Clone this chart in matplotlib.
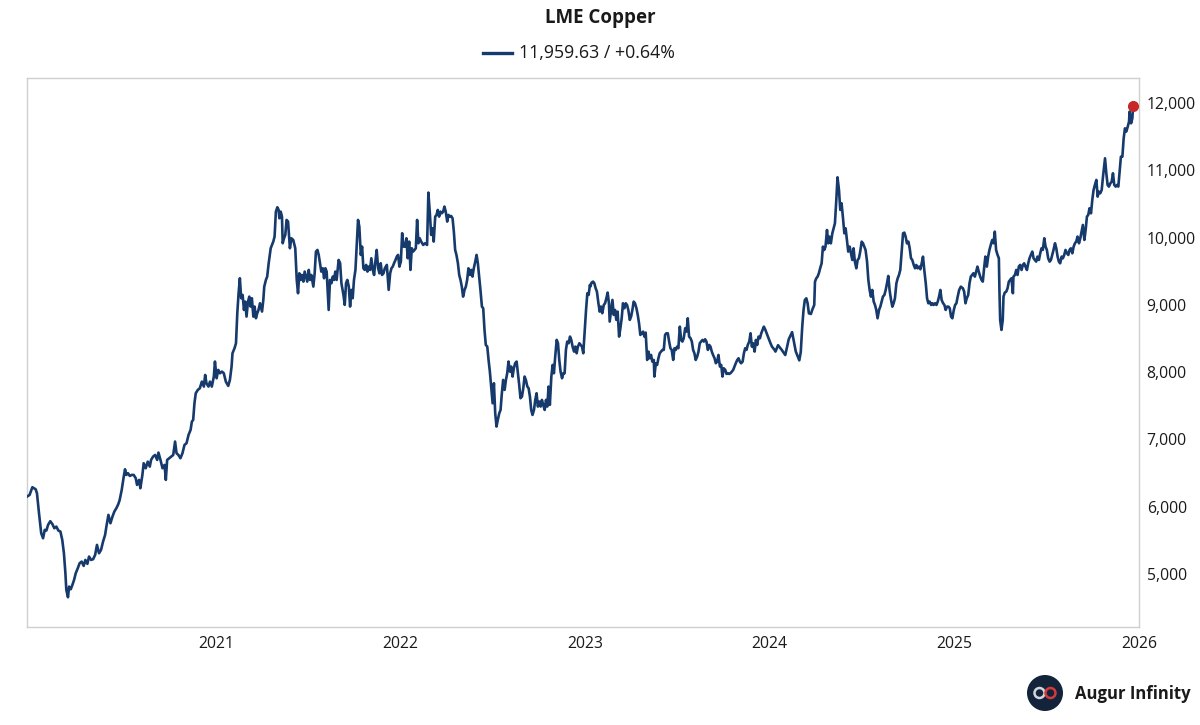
import matplotlib
matplotlib.use("Agg")
import matplotlib.pyplot as plt
from matplotlib.patches import Circle
from matplotlib.lines import Line2D
from matplotlib.ticker import FuncFormatter, FixedLocator
import numpy as np

plt.rcParams['font.family'] = ['Open Sans', 'DejaVu Sans']

# ---------------- data ----------------
title = "LME Copper"
legend_label = "11,959.63 / +0.64%"
year_ticks = [2021, 2022, 2023, 2024, 2025, 2026]
y_ticks = [5000, 6000, 7000, 8000, 9000, 10000, 11000, 12000]

t_2020 = [2019.977, 2019.991, 2020.006, 2020.024, 2020.031, 2020.042, 2020.054, 2020.064, 2020.073, 2020.082,
          2020.091, 2020.103, 2020.114, 2020.125, 2020.136, 2020.147, 2020.158, 2020.168, 2020.177, 2020.185,
          2020.190, 2020.199, 2020.205, 2020.214, 2020.223, 2020.232, 2020.241, 2020.252, 2020.262, 2020.273,
          2020.284, 2020.293, 2020.304, 2020.313, 2020.324, 2020.335, 2020.346, 2020.356, 2020.367, 2020.378,
          2020.389, 2020.400, 2020.407, 2020.418, 2020.429, 2020.440, 2020.450, 2020.461, 2020.472, 2020.479,
          2020.490, 2020.501, 2020.508, 2020.515, 2020.524, 2020.534, 2020.544, 2020.555, 2020.566, 2020.573,
          2020.584, 2020.591, 2020.602, 2020.609, 2020.620, 2020.631, 2020.642, 2020.649, 2020.660, 2020.671,
          2020.682, 2020.689, 2020.700, 2020.711, 2020.722, 2020.729, 2020.736, 2020.747, 2020.758, 2020.769,
          2020.779, 2020.787, 2020.797, 2020.808, 2020.819, 2020.830, 2020.841, 2020.852, 2020.863, 2020.870,
          2020.877, 2020.884, 2020.891, 2020.902, 2020.913, 2020.924, 2020.935, 2020.942, 2020.949, 2020.960,
          2020.968, 2020.978, 2020.989, 2020.995]
p_2020 = [6150, 6175, 6289, 6259, 6200, 5903, 5605, 5531, 5655, 5645,
          5729, 5784, 5744, 5680, 5704, 5645, 5630, 5506, 5308, 5011,
          4763, 4654, 4813, 4773, 4838, 4912, 5011, 5085, 5160, 5184,
          5120, 5209, 5150, 5259, 5209, 5219, 5283, 5432, 5308, 5358,
          5482, 5581, 5704, 5878, 5754, 5853, 5927, 5977, 6041, 6101,
          6249, 6447, 6556, 6472, 6497, 6457, 6472, 6472, 6423, 6324,
          6398, 6274, 6472, 6646, 6571, 6670, 6596, 6695, 6745, 6769,
          6695, 6804, 6695, 6571, 6621, 6398, 6695, 6720, 6745, 6769,
          6968, 6794, 6769, 6720, 6794, 6918, 6943, 7067, 7141, 7265,
          7289, 7537, 7686, 7735, 7760, 7859, 7785, 7958, 7834, 7785,
          7859, 7785, 7934, 8157]

t_2021 = [2021.004, 2021.013, 2021.022, 2021.033, 2021.043, 2021.054, 2021.067, 2021.076, 2021.085, 2021.090,
          2021.101, 2021.109, 2021.116, 2021.123, 2021.130, 2021.137, 2021.145, 2021.152, 2021.159, 2021.166,
          2021.174, 2021.181, 2021.188, 2021.195, 2021.203, 2021.210, 2021.217, 2021.224, 2021.231, 2021.239,
          2021.250, 2021.257, 2021.262, 2021.271, 2021.278, 2021.286, 2021.297, 2021.304, 2021.311, 2021.318,
          2021.325, 2021.333, 2021.340, 2021.344, 2021.351, 2021.358, 2021.362, 2021.369, 2021.376, 2021.383,
          2021.391, 2021.398, 2021.401, 2021.409, 2021.419, 2021.430, 2021.438, 2021.445, 2021.452, 2021.459,
          2021.466, 2021.474, 2021.481, 2021.488, 2021.495, 2021.503, 2021.510, 2021.517, 2021.528, 2021.535,
          2021.542, 2021.550, 2021.557, 2021.564, 2021.571, 2021.579, 2021.586, 2021.593, 2021.600, 2021.611,
          2021.618, 2021.626, 2021.633, 2021.640, 2021.647, 2021.654, 2021.665, 2021.673, 2021.680, 2021.691,
          2021.698, 2021.705, 2021.712, 2021.720, 2021.727, 2021.734, 2021.741, 2021.748, 2021.756, 2021.763,
          2021.770, 2021.777, 2021.785, 2021.792, 2021.799, 2021.806, 2021.814, 2021.821, 2021.828, 2021.835,
          2021.842, 2021.850, 2021.857, 2021.864, 2021.871, 2021.879, 2021.886, 2021.893, 2021.900, 2021.908,
          2021.915, 2021.926, 2021.936, 2021.944, 2021.951, 2021.958, 2021.965, 2021.973, 2021.980, 2021.987,
          2021.994, 2022.002, 2022.009, 2022.016, 2022.025]
p_2021 = [7909, 8033, 7983, 8008, 7983, 7859, 7795, 7884, 8082, 8280,
          8355, 8429, 8875, 9172, 9395, 9098, 9147, 8924, 9048, 8825,
          9048, 9122, 8974, 9098, 8825, 8974, 8801, 8875, 8924, 9023,
          8900, 9073, 9271, 9370, 9420, 9618, 9841, 9890, 9940, 10014,
          10385, 10450, 10410, 10286, 10385, 10311, 9915, 9989, 10039, 10262,
          10237, 9964, 9841, 9989, 9964, 9841, 9370, 9172, 9469, 9370,
          9444, 9345, 9494, 9420, 9345, 9519, 9370, 9444, 9271, 9469,
          9791, 9816, 9742, 9618, 9494, 9543, 9395, 9543, 9494, 8924,
          9370, 9321, 9420, 9370, 9494, 9370, 9667, 9618, 9321, 9147,
          8999, 9321, 9370, 9271, 8974, 9222, 9098, 9370, 9519, 9890,
          10262, 10163, 9742, 9865, 9543, 9519, 9593, 9494, 9568, 9519,
          9692, 9519, 9444, 9643, 9816, 9543, 9469, 9618, 9444, 9469,
          9543, 9593, 9222, 9469, 9543, 9568, 9618, 9667, 9717, 9742,
          9568, 9643, 10064, 9865, 9865]

t_2022 = [2022.032, 2022.039, 2022.047, 2022.054, 2022.061, 2022.068, 2022.076, 2022.083, 2022.090, 2022.097,
          2022.104, 2022.112, 2022.123, 2022.133, 2022.144, 2022.151, 2022.159, 2022.166, 2022.173, 2022.180,
          2022.188, 2022.195, 2022.202, 2022.209, 2022.217, 2022.224, 2022.231, 2022.238, 2022.245, 2022.253,
          2022.260, 2022.267, 2022.274, 2022.282, 2022.289, 2022.296, 2022.303, 2022.311, 2022.318, 2022.325,
          2022.332, 2022.339, 2022.347, 2022.354, 2022.361, 2022.368, 2022.376, 2022.383, 2022.390, 2022.397,
          2022.405, 2022.412, 2022.419, 2022.426, 2022.433, 2022.441, 2022.448, 2022.455, 2022.462, 2022.470,
          2022.477, 2022.484, 2022.491, 2022.499, 2022.506, 2022.513, 2022.520, 2022.527, 2022.535, 2022.542,
          2022.549, 2022.556, 2022.564, 2022.571, 2022.578, 2022.585, 2022.593, 2022.600, 2022.607, 2022.614,
          2022.621, 2022.629, 2022.636, 2022.643, 2022.650, 2022.658, 2022.665, 2022.672, 2022.679, 2022.687,
          2022.694, 2022.701, 2022.708, 2022.715, 2022.723, 2022.730, 2022.737, 2022.744, 2022.752, 2022.759,
          2022.766, 2022.773, 2022.781, 2022.788, 2022.795, 2022.802, 2022.809, 2022.817, 2022.824, 2022.831,
          2022.838, 2022.846, 2022.853, 2022.860, 2022.867, 2022.875, 2022.882, 2022.889, 2022.896, 2022.903,
          2022.911, 2022.918, 2022.925, 2022.932, 2022.940, 2022.947, 2022.954, 2022.961, 2022.969, 2022.976,
          2022.983, 2022.990, 2022.997, 2023.005, 2023.012, 2023.019, 2023.026]
p_2022 = [9989, 9692, 9940, 9519, 9841, 9791, 9816, 9841, 10262, 9915,
          9989, 9940, 9890, 9915, 9890, 10668, 10361, 10039, 10138, 9940,
          10311, 10336, 10410, 10311, 10385, 10361, 10385, 10460, 10385, 10237,
          10336, 10311, 10321, 10286, 10088, 9816, 9742, 9618, 9444, 9370,
          9271, 9122, 9222, 9271, 9370, 9543, 9444, 9519, 9420, 9543,
          9643, 9742, 9618, 9420, 9222, 8974, 8949, 8627, 8404, 8379,
          8181, 8008, 7785, 7537, 7835, 7389, 7191, 7290, 7389, 7438,
          7686, 7884, 7736, 7884, 7983, 8157, 8008, 8082, 7934, 8058,
          8132, 8157, 7983, 7810, 7612, 7637, 7760, 7934, 7884, 7785,
          7760, 7637, 7438, 7364, 7438, 7587, 7686, 7488, 7562, 7488,
          7587, 7513, 7438, 7587, 7488, 7785, 7513, 7934, 8107, 7983,
          8231, 8479, 8429, 8181, 8008, 7909, 7983, 7983, 8330, 8454,
          8429, 8528, 8479, 8379, 8305, 8379, 8280, 8379, 8429, 8404,
          8379, 8280, 8578, 8924, 9172, 9147, 9296]

t_2023 = [2023.028, 2023.035, 2023.043, 2023.050, 2023.057, 2023.064, 2023.072, 2023.079, 2023.086, 2023.093,
          2023.101, 2023.108, 2023.115, 2023.122, 2023.129, 2023.133, 2023.140, 2023.148, 2023.155, 2023.162,
          2023.169, 2023.176, 2023.184, 2023.191, 2023.198, 2023.205, 2023.213, 2023.220, 2023.227, 2023.234,
          2023.242, 2023.249, 2023.256, 2023.263, 2023.270, 2023.278, 2023.285, 2023.292, 2023.299, 2023.307,
          2023.314, 2023.321, 2023.328, 2023.336, 2023.343, 2023.350, 2023.357, 2023.364, 2023.372, 2023.375,
          2023.383, 2023.390, 2023.397, 2023.404, 2023.411, 2023.419, 2023.426, 2023.433, 2023.440, 2023.448,
          2023.455, 2023.462, 2023.469, 2023.477, 2023.484, 2023.491, 2023.498, 2023.505, 2023.513, 2023.520,
          2023.527, 2023.534, 2023.542, 2023.549, 2023.556, 2023.563, 2023.571, 2023.578, 2023.585, 2023.592,
          2023.599, 2023.607, 2023.614, 2023.621, 2023.628, 2023.636, 2023.643, 2023.650, 2023.657, 2023.665,
          2023.672, 2023.679, 2023.686, 2023.693, 2023.701, 2023.708, 2023.715, 2023.722, 2023.730, 2023.737,
          2023.744, 2023.751, 2023.759, 2023.766, 2023.773, 2023.780, 2023.787, 2023.795, 2023.802, 2023.809,
          2023.816, 2023.824, 2023.831, 2023.838, 2023.845, 2023.853, 2023.860, 2023.867, 2023.874, 2023.881,
          2023.889, 2023.896, 2023.903, 2023.910, 2023.918, 2023.925, 2023.932, 2023.939, 2023.947, 2023.954,
          2023.961, 2023.968, 2023.975, 2023.983, 2023.990, 2023.997, 2024.004, 2024.012, 2024.019, 2024.026,
          2024.031]
p_2023 = [9271, 9330, 9345, 9320, 9246, 9196, 9023, 8899, 8974, 8875,
          8998, 9023, 9097, 9182, 9023, 8751, 8899, 9073, 8850, 8924,
          8776, 8899, 8528, 8652, 8800, 9023, 8949, 9023, 8998, 8924,
          8776, 8825, 8924, 9048, 9023, 8949, 8850, 8726, 8553, 8577,
          8602, 8528, 8587, 8181, 8305, 8206, 8255, 8156, 8181, 7934,
          8132, 8107, 8206, 8280, 8305, 8330, 8330, 8553, 8577, 8577,
          8454, 8355, 8330, 8181, 8355, 8330, 8379, 8355, 8676, 8478,
          8454, 8503, 8652, 8602, 8800, 8528, 8503, 8454, 8330, 8280,
          8181, 8231, 8305, 8429, 8454, 8478, 8454, 8488, 8454, 8330,
          8404, 8379, 8305, 8255, 8206, 8132, 8156, 8255, 8082, 8107,
          7934, 8057, 8033, 7973, 7983, 7973, 7983, 8008, 8033, 8082,
          8132, 8181, 8206, 8156, 8132, 8156, 8280, 8355, 8330, 8404,
          8454, 8577, 8379, 8429, 8305, 8478, 8404, 8528, 8503, 8577,
          8627, 8676, 8637, 8577, 8528, 8478, 8429, 8379, 8355, 8330,
          8305]

t_2024 = [2024.045, 2024.065, 2024.084, 2024.103, 2024.121, 2024.141, 2024.160, 2024.168,
          2024.176, 2024.183, 2024.190, 2024.198, 2024.205, 2024.212, 2024.223, 2024.230, 2024.241, 2024.245,
          2024.252, 2024.259, 2024.266, 2024.273, 2024.281, 2024.288, 2024.295, 2024.302, 2024.310, 2024.317,
          2024.324, 2024.331, 2024.339, 2024.346, 2024.353, 2024.360, 2024.367, 2024.375, 2024.382, 2024.389,
          2024.396, 2024.404, 2024.411, 2024.418, 2024.425, 2024.433, 2024.440, 2024.447, 2024.454, 2024.461,
          2024.469, 2024.476, 2024.483, 2024.490, 2024.498, 2024.505, 2024.512, 2024.519, 2024.527, 2024.534,
          2024.541, 2024.548, 2024.555, 2024.563, 2024.570, 2024.577, 2024.584, 2024.592, 2024.599, 2024.606,
          2024.613, 2024.621, 2024.628, 2024.635, 2024.642, 2024.649, 2024.657, 2024.664, 2024.671, 2024.678,
          2024.686, 2024.693, 2024.700, 2024.707, 2024.715, 2024.722, 2024.729, 2024.736, 2024.743, 2024.751,
          2024.758, 2024.765, 2024.772, 2024.780, 2024.787, 2024.794, 2024.801, 2024.809, 2024.816, 2024.823,
          2024.830, 2024.837, 2024.845, 2024.852, 2024.859, 2024.866, 2024.874, 2024.881, 2024.888, 2024.895,
          2024.903, 2024.910, 2024.917, 2024.924, 2024.931, 2024.939, 2024.946, 2024.953, 2024.960, 2024.968,
          2024.975, 2024.982, 2024.989, 2024.997, 2025.004, 2025.011, 2025.018, 2025.026, 2025.035]
p_2024 = [8400, 8330, 8254, 8489, 8594, 8306, 8175, 8300,
          8676, 8924, 9072, 9097, 9023, 8874, 8864, 8924, 8998, 9345,
          9394, 9419, 9469, 9543, 9617, 9865, 9815, 9865, 10112, 9914,
          10013, 9914, 10063, 10137, 10212, 10534, 10895, 10707, 10410, 10509,
          10311, 10063, 10137, 9964, 9791, 9865, 9766, 9667, 9840, 9642,
          9543, 9667, 9692, 9791, 9939, 9914, 9865, 9815, 9642, 9370,
          9221, 9122, 9221, 9048, 8998, 8924, 8800, 8924, 8973, 9048,
          9122, 9147, 9221, 9320, 9429, 9221, 9072, 8973, 9023, 9097,
          9320, 9394, 9444, 9518, 9815, 10063, 10073, 10013, 9914, 9939,
          9840, 9692, 9667, 9592, 9543, 9592, 9543, 9568, 9528, 9617,
          9716, 9518, 9320, 9097, 9023, 9048, 8998, 9023, 8998, 9023,
          8998, 9048, 9122, 9221, 9072, 9023, 8998, 8924, 8973, 8973,
          8949, 8825, 8800, 8924, 8998, 9023, 9122, 9221, 9270]

t_2025 = [2025.046, 2025.053, 2025.060, 2025.067, 2025.075, 2025.082, 2025.089, 2025.096, 2025.103, 2025.111,
          2025.118, 2025.125, 2025.132, 2025.140, 2025.147, 2025.154, 2025.161, 2025.168, 2025.176, 2025.183,
          2025.190, 2025.197, 2025.205, 2025.212, 2025.219, 2025.226, 2025.234, 2025.241, 2025.244, 2025.248,
          2025.255, 2025.262, 2025.266, 2025.273, 2025.281, 2025.288, 2025.295, 2025.302, 2025.309, 2025.317,
          2025.320, 2025.328, 2025.335, 2025.342, 2025.349, 2025.356, 2025.364, 2025.371, 2025.378, 2025.385,
          2025.393, 2025.400, 2025.407, 2025.414, 2025.422, 2025.429, 2025.436, 2025.443, 2025.450, 2025.458,
          2025.465, 2025.472, 2025.479, 2025.487, 2025.494, 2025.501, 2025.508, 2025.516, 2025.523, 2025.530,
          2025.537, 2025.545, 2025.552, 2025.559, 2025.566, 2025.573, 2025.581, 2025.588, 2025.595, 2025.602,
          2025.610, 2025.617, 2025.624, 2025.631, 2025.639, 2025.646, 2025.653, 2025.660, 2025.667, 2025.675,
          2025.682, 2025.689, 2025.696, 2025.704, 2025.711, 2025.718, 2025.725, 2025.732, 2025.740, 2025.747,
          2025.754, 2025.761, 2025.769, 2025.776, 2025.783, 2025.790, 2025.798, 2025.805, 2025.812, 2025.816,
          2025.823, 2025.830, 2025.837, 2025.845, 2025.852, 2025.859, 2025.866, 2025.874, 2025.881, 2025.888,
          2025.895, 2025.902, 2025.910, 2025.917, 2025.924, 2025.931, 2025.939, 2025.946, 2025.949, 2025.957,
          2025.964, 2025.968]
p_2025 = [9246, 9196, 9023, 9097, 9147, 9320, 9419, 9444, 9469, 9419,
          9494, 9568, 9494, 9419, 9370, 9345, 9543, 9717, 9568, 9717,
          9816, 9890, 9964, 9915, 10088, 9816, 9741, 9692, 9221, 8775,
          8627, 8775, 9122, 9182, 9196, 9246, 9345, 9370, 9395, 9172,
          9419, 9444, 9518, 9444, 9568, 9593, 9518, 9593, 9617, 9568,
          9518, 9617, 9692, 9741, 9791, 9692, 9667, 9642, 9717, 9667,
          9766, 9840, 9816, 9989, 9865, 9816, 9692, 9642, 9667, 9741,
          9816, 9915, 9840, 9717, 9642, 9617, 9717, 9692, 9741, 9816,
          9766, 9741, 9816, 9840, 9766, 9865, 9915, 9940, 10014, 9915,
          9989, 10088, 10187, 9964, 10113, 10311, 10336, 10435, 10360, 10559,
          10707, 10781, 10856, 10608, 10682, 10658, 10707, 10905, 11079, 11178,
          10955, 10781, 10757, 10806, 10831, 10955, 10781, 10757, 10781, 10757,
          10980, 11202, 11202, 11475, 11623, 11574, 11648, 11723, 11871, 11698,
          11772, 11959.63]

# ---------------- styling ----------------
W, H = 1200, 725
line_color = "#163a6c"
dot_color = "#c62828"
frame_color = "#cfcfcf"
text_color = "#1a1a1a"

t = np.concatenate([t_2020, t_2021, t_2022, t_2023, t_2024, t_2025])
p = np.concatenate([p_2020, p_2021, p_2022, p_2023, p_2024, p_2025])

fig = plt.figure(figsize=(W / 100, H / 100), dpi=100)
fig.patch.set_facecolor("white")
L, R, T, B = 27, 1139, 78, 627
ax = fig.add_axes([L / W, 1 - B / H, (R - L) / W, (B - T) / H])

ax.plot(t, p, color=line_color, lw=1.9, solid_joinstyle="round", zorder=3)
ax.plot([t[-1]], [p[-1]], "o", color=dot_color, markersize=7, zorder=4)

ax.set_xlim(t[0], 2026.0)
ax.set_ylim(4212, 12371)

ax.xaxis.set_major_locator(FixedLocator(year_ticks))
ax.xaxis.set_major_formatter(FuncFormatter(lambda v, pos: f"{int(round(v))}"))
ax.yaxis.set_major_locator(FixedLocator(y_ticks))
ax.yaxis.set_major_formatter(FuncFormatter(lambda v, pos: f"{v:,.0f}"))
ax.yaxis.tick_right()
ax.tick_params(axis="both", length=0, labelsize=11.3, colors=text_color)
ax.tick_params(axis="y", pad=5.5)
ax.tick_params(axis="x", pad=6.5)

for s in ax.spines.values():
    s.set_color(frame_color)
    s.set_linewidth(1.0)
ax.grid(False)

# title and legend
fig.text(0.5, 1 - 18 / H, title, ha="center", va="center", fontsize=13.5,
         fontweight="bold", color=text_color)
fig.add_artist(Line2D([483 / W, 512 / W], [1 - 53 / H, 1 - 53 / H], color=line_color,
                      lw=2.4, transform=fig.transFigure))
fig.text(519 / W, 1 - 53 / H, legend_label, ha="left", va="center", fontsize=12.8,
         color=text_color)

# logo
cx, cy = 1045 / 100, (H - 693) / 100
fig.add_artist(Circle((cx, cy), 0.18, transform=fig.dpi_scale_trans,
                      facecolor="#13233a", edgecolor="none"))
fig.add_artist(Circle((cx - 0.055, cy), 0.05, transform=fig.dpi_scale_trans,
                      facecolor="none", edgecolor="#cfd6de", lw=1.8))
fig.add_artist(Circle((cx + 0.055, cy), 0.05, transform=fig.dpi_scale_trans,
                      facecolor="none", edgecolor="#d43a3a", lw=1.8))
fig.text(1075 / W, 1 - 694 / H, "Augur Infinity", ha="left", va="center",
         fontsize=12, fontweight="bold", color=text_color)

fig.savefig("out.png", dpi=100, facecolor="white")
